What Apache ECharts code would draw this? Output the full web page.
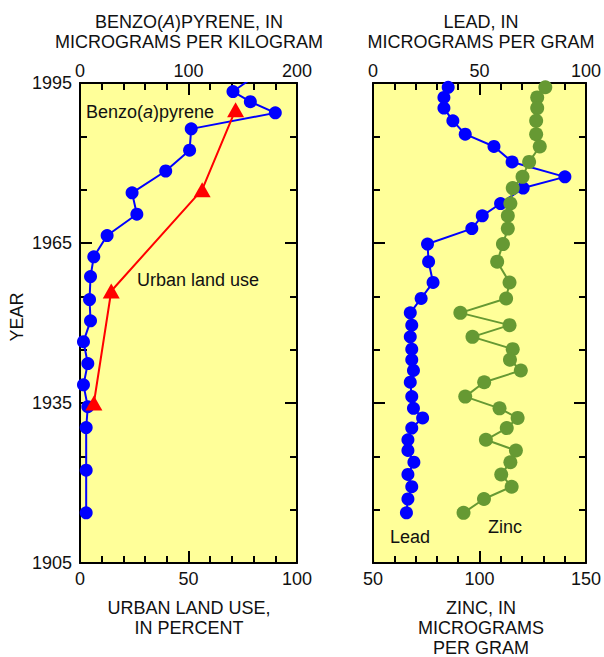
<!DOCTYPE html>
<html><head><meta charset="utf-8">
<script src="https://cdn.jsdelivr.net/npm/echarts@6/dist/echarts.min.js"></script>
<style>html,body{margin:0;padding:0;background:#fff}#c{width:604px;height:657px}</style>
</head><body><div id="c"></div>
<script>
// ---- data ----
const yearTicks = [1905, 1935, 1965, 1995];
const benzoYears = [1997, 1993.4, 1991.5, 1989.4, 1986.4, 1982.4, 1978.5, 1974.4, 1970.4, 1966.4, 1962.4, 1958.7, 1954.4, 1950.4, 1946.5, 1942.4, 1938.4, 1934.3, 1930.4, 1922.4, 1914.4];
const benzoValues = [166, 141, 157, 180, 102.5, 101, 79, 48, 52.4, 25, 12.7, 9.7, 8.8, 9.7, 3.2, 7.2, 3.2, 7.2, 5.7, 5.7, 5.7];
const urbanYears = [1990, 1975, 1956, 1935];
const urbanValues = [71.7, 56.3, 14.4, 6.4];
const metalYears = [1994.2, 1992.3, 1990.3, 1987.9, 1985.4, 1983.1, 1980.2, 1977.4, 1975.3, 1972.4, 1970.1, 1967.7, 1964.8, 1961.5, 1957.6, 1954.6, 1951.9, 1949.6, 1947.4, 1945.1, 1943.1, 1941.1, 1938.9, 1936.2, 1934.0, 1932.2, 1930.3, 1928.1, 1926.1, 1923.9, 1921.6, 1919.3, 1917.0, 1914.4];
const leadValues = [35.3, 33.3, 33.3, 37.5, 43.3, 56.8, 65.3, 90.1, 70.5, 59.9, 51.3, 46.4, 25.6, 26.1, 28.2, 22.6, 17.5, 18.2, 17.5, 18.2, 18.2, 19.0, 17.5, 18.2, 19.0, 23.3, 18.2, 16.4, 16.4, 19.2, 16.4, 18.2, 16.4, 15.7];
const zincValues = [130.9, 127.1, 127.1, 126.6, 126.6, 128.3, 123.3, 120.2, 115.6, 114.5, 113.3, 113.3, 111.0, 108.3, 114.1, 112.5, 91.0, 114.1, 96.7, 115.6, 114.3, 119.4, 102.2, 93.3, 109.4, 117.9, 112.8, 103.0, 117.1, 114.5, 110.2, 115.1, 102.1, 92.5];
const benzoAxis = {min: 0, max: 200, interval: 100};
const urbanAxis = {min: 0, max: 100, interval: 50};
const leadAxis = {min: 0, max: 100, interval: 50};
const zincAxis = {min: 50, max: 150, interval: 50};

// ---- chart ----
const FONT = 'Liberation Sans, Arial, Helvetica, sans-serif';
const TXT = '#111';
const pairs = (ys, xs) => ys.map((y, i) => [xs[i], y]);

function xAx(gi, pos, ax, margin) {
  return {
    type: 'value', gridIndex: gi, position: pos, min: ax.min, max: ax.max, interval: ax.interval,
    axisLine: {show: true, onZero: false, lineStyle: {color: '#000', width: 2}},
    axisTick: {show: true, inside: true, length: 12, lineStyle: {color: '#000', width: 2}},
    minorTick: {show: true, splitNumber: 5, length: 7, lineStyle: {color: '#000', width: 2}},
    splitLine: {show: false}, minorSplitLine: {show: false},
    axisLabel: {show: true, fontSize: 18, color: TXT, fontFamily: FONT, margin: margin, formatter: v => String(v)}
  };
}
function yAx(gi, pos, labels) {
  return {
    type: 'value', gridIndex: gi, position: pos, min: yearTicks[0], max: yearTicks[yearTicks.length - 1],
    interval: yearTicks[1] - yearTicks[0],
    axisLine: {show: true, onZero: false, lineStyle: {color: '#000', width: 2}},
    axisTick: {show: true, inside: true, length: 12, lineStyle: {color: '#000', width: 2}},
    minorTick: {show: true, splitNumber: 3, length: 7, lineStyle: {color: '#000', width: 2}},
    splitLine: {show: false}, minorSplitLine: {show: false},
    axisLabel: {show: labels, fontSize: 18, color: TXT, fontFamily: FONT, margin: 8, formatter: v => String(v)}
  };
}
function txt(x, y, text, extra) {
  return {
    type: 'text', x: x, y: y, silent: true,
    style: Object.assign({
      text: text, fill: TXT, fontSize: 18, fontFamily: FONT, align: 'center', verticalAlign: 'middle',
      rich: {i: {fontStyle: 'italic', fontSize: 18, fontFamily: FONT, fill: TXT}}
    }, extra || {})
  };
}

const chart = echarts.init(document.getElementById('c'), null, {renderer: 'svg'});
chart.setOption({
  animation: false,
  backgroundColor: '#ffffff',
  grid: [
    {left: 80, top: 83, width: 217, height: 480, show: true, backgroundColor: '#FFFF99', borderWidth: 0},
    {left: 373, top: 83, width: 217, height: 480, show: true, backgroundColor: '#FFFF99', borderWidth: 0}
  ],
  xAxis: [
    xAx(0, 'top', benzoAxis, 3),
    xAx(0, 'bottom', urbanAxis, 7),
    xAx(1, 'top', leadAxis, 3),
    xAx(1, 'bottom', zincAxis, 7)
  ],
  yAxis: [
    yAx(0, 'left', true),
    yAx(0, 'right', false),
    yAx(1, 'left', false),
    yAx(1, 'right', false)
  ],
  series: [
    {type: 'line', name: 'Benzo(a)pyrene', xAxisIndex: 0, yAxisIndex: 0, data: pairs(benzoYears, benzoValues),
     symbol: 'circle', symbolSize: 13, showAllSymbol: true, clip: true, z: 2,
     itemStyle: {color: '#0000FF'}, lineStyle: {color: '#0000FF', width: 2}},
    {type: 'line', name: 'Urban land use', xAxisIndex: 1, yAxisIndex: 0, data: pairs(urbanYears, urbanValues),
     symbol: 'triangle', symbolSize: [17, 15], showAllSymbol: true, z: 3,
     itemStyle: {color: '#FF0000'}, lineStyle: {color: '#FF0000', width: 2}},
    {type: 'line', name: 'Lead', xAxisIndex: 2, yAxisIndex: 2, data: pairs(metalYears, leadValues),
     symbol: 'circle', symbolSize: 13, showAllSymbol: true, z: 2,
     itemStyle: {color: '#0000FF'}, lineStyle: {color: '#0000FF', width: 2}},
    {type: 'line', name: 'Zinc', xAxisIndex: 3, yAxisIndex: 2, data: pairs(metalYears, zincValues),
     symbol: 'circle', symbolSize: 14, showAllSymbol: true, z: 3,
     itemStyle: {color: '#669933'}, lineStyle: {color: '#669933', width: 2}}
  ],
  graphic: [
    txt(189, 22, 'BENZO({i|A})PYRENE, IN'),
    txt(189, 42, 'MICROGRAMS PER KILOGRAM'),
    txt(481, 22, 'LEAD, IN'),
    txt(481, 42, 'MICROGRAMS PER GRAM'),
    txt(189, 608, 'URBAN LAND USE,'),
    txt(189, 628, 'IN PERCENT'),
    txt(481, 608, 'ZINC, IN'),
    txt(481, 628, 'MICROGRAMS'),
    txt(481, 648, 'PER GRAM'),
    Object.assign(txt(17, 317, 'YEAR'), {rotation: Math.PI / 2}),
    txt(86, 112, 'Benzo({i|a})pyrene', {align: 'left'}),
    txt(137, 280, 'Urban land use', {align: 'left'}),
    txt(390, 537, 'Lead', {align: 'left'}),
    txt(488, 527, 'Zinc', {align: 'left'})
  ]
});
</script></body></html>
